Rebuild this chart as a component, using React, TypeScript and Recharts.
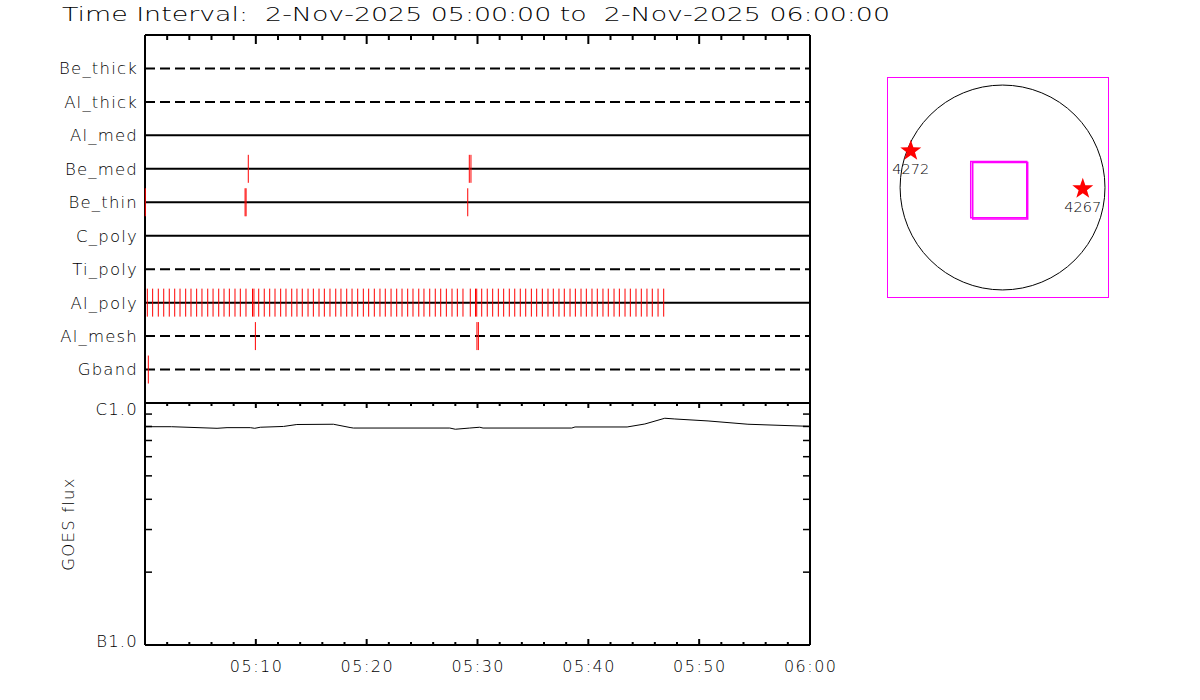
import React from "react";
import {
  ScatterChart,
  Scatter,
  LineChart,
  Line,
  XAxis,
  YAxis,
  ReferenceLine,
  ReferenceArea,
  ReferenceDot,
  Label,
} from "recharts";

const FONT = "DejaVu Sans";
const TITLE = "Time Interval:  2-Nov-2025 05:00:00 to  2-Nov-2025 06:00:00";

// detector rows, top to bottom
const ROWS = ["Be_thick", "Al_thick", "Al_med", "Be_med", "Be_thin", "C_poly", "Ti_poly", "Al_poly", "Al_mesh", "Gband"];
const DASHED_ROWS = ["Be_thick", "Al_thick", "Ti_poly", "Al_mesh", "Gband"];
const ROW_TICKS = [1, 2, 3, 4, 5, 6, 7, 8, 9, 10];

// event times, minutes after 05:00
const BE_MED_T = [9.32, 29.26, 29.41];
const BE_THIN_T = [0.03, 9.03, 9.12, 29.12];
const AL_MESH_T = [9.96, 29.95, 30.08];
const GBAND_T = [0.3];
const AL_POLY_T = [
  0.21, 0.69, 1.2, 1.69, 2.19, 2.68, 3.16, 3.67, 4.15, 4.66,
  5.14, 5.66, 6.14, 6.65, 7.13, 7.61, 8.12, 8.6, 9.11, 9.7,
  9.83, 10.26, 10.76, 11.25, 11.73, 12.24, 12.72, 13.24, 13.71, 14.19,
  14.71, 15.19, 15.7, 16.18, 16.69, 17.21, 17.68, 18.2, 18.68, 19.19,
  19.7, 20.18, 20.69, 21.2, 21.68, 22.2, 22.71, 23.19, 23.7, 24.18,
  24.7, 25.17, 25.69, 26.19, 26.68, 27.19, 27.7, 28.18, 28.69, 29.35,
  29.82, 29.93, 30.38, 30.88, 31.37, 31.88, 32.36, 32.87, 33.36, 33.86,
  34.35, 34.86, 35.34, 35.85, 36.36, 36.84, 37.35, 37.83, 38.35, 38.83,
  39.34, 39.82, 40.33, 40.81, 41.32, 41.8, 42.32, 42.8, 43.31, 43.79,
  44.3, 44.78, 45.29, 45.77, 46.29, 46.8,
];

// time axis
const MINOR_MIN = [0, 2, 4, 6, 8, 10, 12, 14, 16, 18, 20, 22, 24, 26, 28, 30, 32, 34, 36, 38, 40, 42, 44, 46, 48, 50, 52, 54, 56, 58, 60];
const MAJOR_MIN = [0, 10, 20, 30, 40, 50, 60];
const LABEL_MIN = [10, 20, 30, 40, 50, 60];
const TIME_LABELS = ["05:10", "05:20", "05:30", "05:40", "05:50", "06:00"];

// GOES flux (W/m^2)
const GOES_T = [0, 2.4, 6.5, 7.4, 9.5, 9.9, 10.4, 12.5, 13.7, 17.0, 18.5, 18.8, 27.5, 28.0, 29.3, 30.2, 30.5, 38.5, 38.8, 43.5, 45.1, 46.9, 47.8, 50.8, 54.4, 59.9, 60];
const GOES_FLUX = [
  7.98e-7, 7.98e-7, 7.86e-7, 7.91e-7, 7.91e-7, 7.86e-7, 7.94e-7, 8.0e-7, 8.15e-7, 8.17e-7,
  7.92e-7, 7.88e-7, 7.88e-7, 7.79e-7, 7.88e-7, 7.94e-7, 7.88e-7, 7.88e-7, 7.96e-7, 7.96e-7,
  8.19e-7, 8.65e-7, 8.59e-7, 8.43e-7, 8.17e-7, 8.01e-7, 8.01e-7,
];
const FLUX_TICKS = [1e-7, 2e-7, 3e-7, 4e-7, 5e-7, 6e-7, 7e-7, 8e-7, 9e-7, 1e-6];
const FLUX_LABEL_VALUES = [1e-7, 1e-6];
const FLUX_LABELS = ["B1.0", "C1.0"];

// solar map (arcsec)
const SUN_R = 969;
const AR_NAMES = ["4272", "4267"];
const AR_X = [-868, 759];
const AR_Y = [347, -12];
const FOV_X1 = [-301, -282];
const FOV_X2 = [229, 238];
const FOV_Y1 = [-287, -297];
const FOV_Y2 = [246, 237];

const rowOf = (name: string) => ROWS.length - ROWS.indexOf(name);

const EVENTS = [
  ...BE_MED_T.map((t) => ({ t, row: rowOf("Be_med") })),
  ...BE_THIN_T.map((t) => ({ t, row: rowOf("Be_thin") })),
  ...AL_POLY_T.map((t) => ({ t, row: rowOf("Al_poly") })),
  ...AL_MESH_T.map((t) => ({ t, row: rowOf("Al_mesh") })),
  ...GBAND_T.map((t) => ({ t, row: rowOf("Gband") })),
];

const GOES_DATA = GOES_T.map((t, i) => ({ t, flux: GOES_FLUX[i] }));
const AR_DATA = AR_NAMES.map((name, i) => ({ x: AR_X[i], y: AR_Y[i], name }));

const AXIS = { stroke: "#000", strokeWidth: 2 };
const LABEL_STYLE = { fill: "#000", fontSize: 16.5, letterSpacing: 1.2, fontWeight: 200 };

const EventTick = (p: any) => (
  <line x1={p.cx} x2={p.cx} y1={p.cy - 14} y2={p.cy + 14} stroke="#ff0000" strokeWidth={1} />
);

const timeTick = (dir: number, major: number, minor: number) => (p: any) => {
  const len = MAJOR_MIN.includes(p.payload.value) ? major : minor;
  return <line x1={p.x} x2={p.x} y1={p.y} y2={p.y + dir * len} stroke="#000" strokeWidth={2} />;
};

const TimeLabelTick = (p: any) => {
  const v = p.payload.value;
  const li = LABEL_MIN.indexOf(v);
  const len = MAJOR_MIN.includes(v) ? 6 : 3;
  return (
    <g>
      <line x1={p.x} x2={p.x} y1={p.y} y2={p.y - len} stroke="#000" strokeWidth={2} />
      {li >= 0 && (
        <text
          x={p.x + 0.75}
          y={p.y + 27}
          textAnchor="middle"
          fill="#000"
          fontSize={16}
          fontWeight={200}
          letterSpacing={1.5}
        >
          {TIME_LABELS[li]}
        </text>
      )}
    </g>
  );
};

const RowLabelTick = (p: any) => (
  <text x={p.x - 7} y={p.y} dy="0.36em" textAnchor="end" {...LABEL_STYLE}>
    {ROWS[ROWS.length - p.payload.value]}
  </text>
);

const FluxLeftTick = (p: any) => {
  const v = p.payload.value;
  const li = FLUX_LABEL_VALUES.indexOf(v);
  return (
    <g>
      {li < 0 && <line x1={p.x} x2={p.x + 7} y1={p.y} y2={p.y} stroke="#000" strokeWidth={1.5} />}
      {li >= 0 && (
        <text x={p.x - 7} y={p.y + (v > 5e-7 ? 12 : 1.5)} textAnchor="end" {...LABEL_STYLE}>
          {FLUX_LABELS[li]}
        </text>
      )}
    </g>
  );
};

const FluxRightTick = (p: any) =>
  FLUX_LABEL_VALUES.includes(p.payload.value) ? <g /> : (
    <line x1={p.x} x2={p.x - 7} y1={p.y} y2={p.y} stroke="#000" strokeWidth={1.5} />
  );

const StarMark = (p: any) => {
  const pts: string[] = [];
  for (let k = 0; k < 10; k++) {
    const r = k % 2 === 0 ? 11 : 4.4;
    const a = -Math.PI / 2 + (k * Math.PI) / 5;
    pts.push(`${p.cx + r * Math.cos(a)},${p.cy + r * Math.sin(a)}`);
  }
  return (
    <g>
      <polygon points={pts.join(" ")} fill="#ff0000" />
      <text x={p.cx} y={p.cy + 23.5} textAnchor="middle" fill="#000" fontSize={14.5} fontWeight={200}>
        {p.payload.name}
      </text>
    </g>
  );
};

const MAP_W = 222;
const MAP_H = 221;
const MAP_X = [-1093, 1007];
const MAP_Y = [-1045, 1045];

export default function App() {
  return (
    <div
      style={{
        position: "absolute",
        left: 0,
        top: 0,
        width: 1200,
        height: 700,
        background: "#fff",
        fontFamily: FONT,
        overflow: "hidden",
      }}
    >
      <svg width={1200} height={30} style={{ position: "absolute", left: 0, top: 0 }}>
        <text
          x={62}
          y={21}
          fontSize={20}
          fontWeight={200}
          fill="#000"
          textLength={828}
          lengthAdjust="spacingAndGlyphs"
          style={{ whiteSpace: "pre" }}
        >
          {TITLE}
        </text>
      </svg>

      {/* detector event panel */}
      <div style={{ position: "absolute", left: 0, top: 0 }}>
        <ScatterChart width={830} height={420} margin={{ top: 30, right: 15, bottom: 12, left: 0 }}>
          <XAxis
            xAxisId="top"
            orientation="top"
            type="number"
            dataKey="t"
            domain={[0, 60]}
            ticks={MINOR_MIN}
            interval={0}
            height={5}
            tickSize={0}
            tickMargin={0}
            tickLine={false}
            axisLine={AXIS}
            tick={timeTick(1, 9, 5)}
          />
          <XAxis
            xAxisId="bottom"
            orientation="bottom"
            type="number"
            dataKey="t"
            domain={[0, 60]}
            ticks={MINOR_MIN}
            interval={0}
            height={5}
            tickSize={0}
            tickMargin={0}
            tickLine={false}
            axisLine={AXIS}
            tick={timeTick(-1, 7, 3)}
          />
          <YAxis
            yAxisId="rows"
            type="number"
            dataKey="row"
            domain={[0, 11]}
            ticks={ROW_TICKS}
            interval={0}
            width={145}
            tickSize={0}
            tickMargin={0}
            tickLine={false}
            axisLine={AXIS}
            tick={RowLabelTick}
          />
          <YAxis
            yAxisId="frame"
            orientation="right"
            type="number"
            domain={[0, 11]}
            width={5}
            tick={false}
            tickLine={false}
            axisLine={AXIS}
          />
          {ROWS.map((r) => (
            <ReferenceLine
              key={r}
              xAxisId="top"
              yAxisId="rows"
              y={rowOf(r)}
              stroke="#000"
              strokeWidth={2}
              strokeDasharray={DASHED_ROWS.includes(r) ? "10 5" : undefined}
            />
          ))}
          <Scatter xAxisId="top" yAxisId="rows" data={EVENTS} shape={EventTick} isAnimationActive={false} />
        </ScatterChart>
      </div>

      {/* GOES flux panel */}
      <div style={{ position: "absolute", left: 0, top: 380 }}>
        <LineChart width={870} height={320} data={GOES_DATA} margin={{ top: 18, right: 55, bottom: 15, left: 0 }}>
          <XAxis
            xAxisId="top"
            orientation="top"
            type="number"
            dataKey="t"
            domain={[0, 60]}
            ticks={MINOR_MIN}
            interval={0}
            height={5}
            tickSize={0}
            tickMargin={0}
            tickLine={false}
            axisLine={AXIS}
            tick={timeTick(1, 5, 3)}
          />
          <XAxis
            xAxisId="bottom"
            orientation="bottom"
            type="number"
            dataKey="t"
            domain={[0, 60]}
            ticks={MINOR_MIN}
            interval={0}
            height={40}
            tickSize={0}
            tickMargin={0}
            tickLine={false}
            axisLine={AXIS}
            tick={TimeLabelTick}
          />
          <YAxis
            yAxisId="flux"
            scale="log"
            type="number"
            domain={[1e-7, 1e-6]}
            allowDataOverflow
            ticks={FLUX_TICKS}
            interval={0}
            width={145}
            tickSize={0}
            tickMargin={0}
            tickLine={false}
            axisLine={AXIS}
            tick={FluxLeftTick}
          >
            <Label
              content={(lp: any) => {
                const vb = lp.viewBox || { x: 0, y: 0, width: 145, height: 242 };
                const cx = vb.x + 68;
                const cy = vb.y + vb.height / 2;
                return (
                  <text
                    x={cx}
                    y={cy}
                    transform={`rotate(-90 ${cx} ${cy})`}
                    textAnchor="middle"
                    dominantBaseline="central"
                    {...LABEL_STYLE}
                  >
                    GOES flux
                  </text>
                );
              }}
            />
          </YAxis>
          <YAxis
            yAxisId="fluxRight"
            orientation="right"
            scale="log"
            type="number"
            domain={[1e-7, 1e-6]}
            allowDataOverflow
            ticks={FLUX_TICKS}
            interval={0}
            width={5}
            tickSize={0}
            tickMargin={0}
            tickLine={false}
            axisLine={AXIS}
            tick={FluxRightTick}
          />
          <Line
            xAxisId="bottom"
            yAxisId="flux"
            type="linear"
            dataKey="flux"
            stroke="#000"
            strokeWidth={1}
            dot={false}
            isAnimationActive={false}
          />
        </LineChart>
      </div>

      {/* solar disk map */}
      <div
        style={{
          position: "absolute",
          left: 887,
          top: 77,
          width: MAP_W,
          height: MAP_H,
          border: "1px solid #ff00ff",
          boxSizing: "border-box",
        }}
      />
      <div style={{ position: "absolute", left: 887, top: 77 }}>
        <ScatterChart width={MAP_W} height={MAP_H} margin={{ top: 0, right: 0, bottom: 0, left: 0 }}>
          <XAxis type="number" dataKey="x" domain={MAP_X} hide />
          <YAxis type="number" dataKey="y" domain={MAP_Y} hide />
          <ReferenceDot
            x={0}
            y={0}
            r={(SUN_R * MAP_W) / (MAP_X[1] - MAP_X[0])}
            fill="none"
            stroke="#000"
            strokeWidth={1}
          />
          {FOV_X1.map((x1, i) => (
            <ReferenceArea
              key={i}
              x1={x1}
              x2={FOV_X2[i]}
              y1={FOV_Y1[i]}
              y2={FOV_Y2[i]}
              fill="none"
              stroke="#ff00ff"
              strokeWidth={1.5}
            />
          ))}
          <Scatter data={AR_DATA} shape={StarMark} isAnimationActive={false} />
        </ScatterChart>
      </div>
    </div>
  );
}
